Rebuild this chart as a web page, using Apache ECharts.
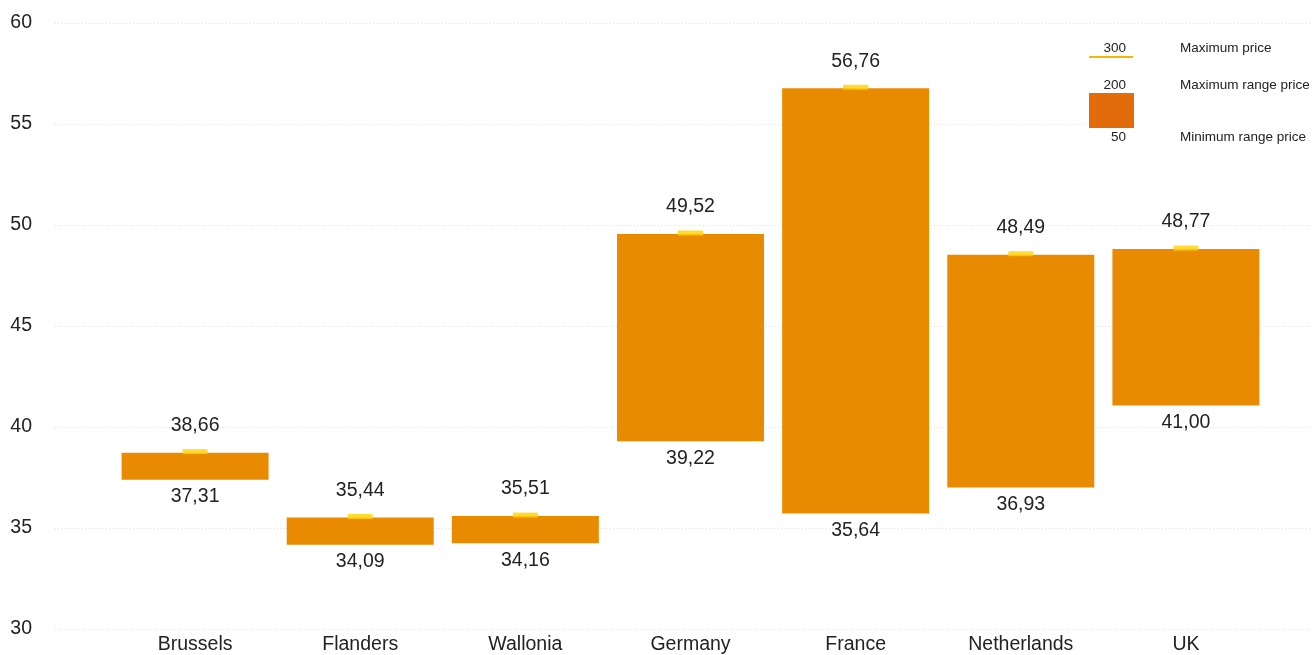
<!DOCTYPE html>
<html><head><meta charset="utf-8">
<script src="https://cdn.jsdelivr.net/npm/echarts@6/dist/echarts.min.js"></script>
<style>html,body{margin:0;padding:0;background:#fff}#c{width:1312px;height:655px}</style>
</head><body><div id="c"></div>
<script>
const categories = ['Brussels','Flanders','Wallonia','Germany','France','Netherlands','UK'];
const minRange = [37.31, 34.09, 34.16, 39.22, 35.64, 36.93, 41.00];
const maxRange = [38.66, 35.44, 35.51, 49.52, 56.76, 48.49, 48.77];
const maxPrice = [38.66, 35.44, 35.51, 49.52, 56.76, 48.49, 48.77];
const yTicks = [30, 35, 40, 45, 50, 55, 60];

const fmt = v => v.toFixed(2).replace('.', ',');
const FONT = 'Liberation Sans, Arial, sans-serif';
const chart = echarts.init(document.getElementById('c'));
chart.setOption({
  animation: false,
  textStyle: {fontFamily: FONT},
  grid: [
    {left: 112.5, right: 43.5, top: 23, bottom: 26},
    {left: 55, right: 0, top: 23, bottom: 26}
  ],
  xAxis: [
    {type: 'category', gridIndex: 0, data: categories,
     axisLine: {show: false}, axisTick: {show: false},
     axisLabel: {fontSize: 19.5, color: '#222', margin: 8, fontFamily: FONT}},
    {type: 'value', gridIndex: 1, show: false, min: 0, max: 1}
  ],
  yAxis: [
    {type: 'value', gridIndex: 0, min: yTicks[0], max: yTicks[yTicks.length-1], interval: 5,
     axisLabel: {show: false}, splitLine: {show: false}, axisLine: {show: false}, axisTick: {show: false}},
    {type: 'value', gridIndex: 1, min: yTicks[0], max: yTicks[yTicks.length-1], interval: 5,
     axisLine: {show: false}, axisTick: {show: false},
     axisLabel: {fontSize: 19.5, color: '#222', margin: 23, fontFamily: FONT},
     splitLine: {show: true, lineStyle: {color: '#e2e2e2', type: [1, 2], width: 1}}}
  ],
  series: [
    {type: 'bar', stack: 'r', xAxisIndex: 0, yAxisIndex: 0, barWidth: 147,
     data: minRange, itemStyle: {color: 'transparent'},
     label: {show: true, position: 'insideTop', distance: 7, fontSize: 19.5, color: '#222',
             fontFamily: FONT, formatter: p => fmt(minRange[p.dataIndex])}},
    {type: 'bar', stack: 'r', xAxisIndex: 0, yAxisIndex: 0, barWidth: 147,
     data: maxRange.map((v, i) => +(v - minRange[i]).toFixed(2)),
     itemStyle: {color: '#e98b00'},
     label: {show: true, position: 'top', distance: 17, fontSize: 19.5, color: '#222',
             fontFamily: FONT, formatter: p => fmt(maxRange[p.dataIndex])}},
    {type: 'scatter', xAxisIndex: 0, yAxisIndex: 0, data: maxPrice, symbol: 'rect',
     symbolSize: [25, 5], symbolOffset: [0, -1], itemStyle: {color: '#ffd200'}, z: 5}
  ],
  graphic: [
    {type: 'rect', z: 100, shape: {x: 1085, y: 30, width: 227, height: 120}, style: {fill: '#fff'}},
    {type: 'line', z: 101, shape: {x1: 1089, y1: 57, x2: 1133, y2: 57}, style: {stroke: '#f5b800', lineWidth: 2}},
    {type: 'text', z: 101, x: 1126, y: 48, style: {text: '300', fill: '#222', align: 'right', verticalAlign: 'middle', font: '13.5px ' + FONT}},
    {type: 'rect', z: 101, shape: {x: 1089, y: 93, width: 45, height: 35}, style: {fill: '#e36c0a'}},
    {type: 'text', z: 101, x: 1126, y: 85, style: {text: '200', fill: '#222', align: 'right', verticalAlign: 'middle', font: '13.5px ' + FONT}},
    {type: 'text', z: 101, x: 1126, y: 137, style: {text: '50', fill: '#222', align: 'right', verticalAlign: 'middle', font: '13.5px ' + FONT}},
    {type: 'text', z: 101, x: 1180, y: 48, style: {text: 'Maximum price', fill: '#222', verticalAlign: 'middle', font: '13.5px ' + FONT}},
    {type: 'text', z: 101, x: 1180, y: 85, style: {text: 'Maximum range price', fill: '#222', verticalAlign: 'middle', font: '13.5px ' + FONT}},
    {type: 'text', z: 101, x: 1180, y: 137, style: {text: 'Minimum range price', fill: '#222', verticalAlign: 'middle', font: '13.5px ' + FONT}}
  ]
});
</script></body></html>
